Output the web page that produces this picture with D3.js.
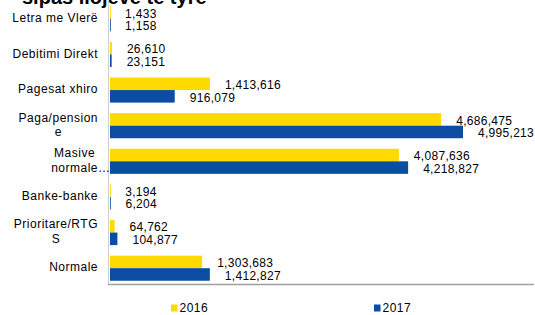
<!DOCTYPE html>
<html>
<head>
<meta charset="utf-8">
<script src="https://cdn.jsdelivr.net/npm/d3@7"></script>
<style>
  html, body { margin: 0; padding: 0; background: #fff; }
  svg { display: block; font-family: "Liberation Sans", Arial, sans-serif; }
</style>
</head>
<body>
<svg id="chart" width="535" height="315"></svg>
<script>
const titleText = "sipas llojeve të tyre";
const categories = ["Letra me Vlerë", "Debitimi Direkt", "Pagesat xhiro", "Paga/pension e", "Masive normale…", "Banke-banke", "Prioritare/RTG S", "Normale"];
const categoryLines = [["Letra me Vlerë"], ["Debitimi Direkt"], ["Pagesat xhiro"], ["Paga/pension", "e"], ["Masive", "normale…"], ["Banke-banke"], ["Prioritare/RTG", "S"], ["Normale"]];
const seriesNames = ["2016", "2017"];
const values2016 = [1433, 26610, 1413616, 4686475, 4087636, 3194, 64762, 1303683];
const values2017 = [1158, 23151, 916079, 4995213, 4218827, 6204, 104877, 1412827];
const colors = ["#FFDA00", "#0A4DA2"];
const xMax = 6000000;

const svg = d3.select("#chart");
const fmt = d3.format(",");

const x = d3.scaleLinear().domain([0, xMax]).range([110, 534]);
const y = d3.scaleBand().domain(categories).range([1, 286]).padding(0);
const y1 = d3.scaleBand().domain(seriesNames).range([0, y.bandwidth()]).paddingInner(0).paddingOuter(0.42);
const color = d3.scaleOrdinal().domain(seriesNames).range(colors);

// title (cut off at top)
svg.append("text")
  .attr("x", 22).attr("y", 3.5)
  .attr("font-size", 20).attr("font-weight", "bold").attr("fill", "#000")
  .text(titleText);

const rows = categories.map((c, i) => ({
  cat: c,
  lines: categoryLines[i],
  vals: [values2016[i], values2017[i]]
}));

// bars
const g = svg.append("g");
rows.forEach(r => {
  r.vals.forEach((v, j) => {
    const s = seriesNames[j];
    const yy = y(r.cat) + y1(s);
    g.append("rect")
      .attr("x", x(0))
      .attr("y", yy)
      .attr("width", Math.max(0.8, x(v) - x(0)))
      .attr("height", y1.bandwidth())
      .attr("fill", color(s));
    g.append("text")
      .attr("x", x(v) + 15)
      .attr("y", yy + y1.bandwidth() / 2 + 2)
      .attr("dominant-baseline", "middle")
      .attr("font-size", 12)
      .attr("letter-spacing", 0.3)
      .attr("fill", "#000")
      .text(fmt(v));
  });
});

// axes lines
svg.append("line")
  .attr("x1", 108.5).attr("x2", 108.5)
  .attr("y1", 0).attr("y2", 285)
  .attr("stroke", "#cfcfcf").attr("stroke-width", 1);
svg.append("line")
  .attr("x1", 108).attr("x2", x.range()[1])
  .attr("y1", 284.5).attr("y2", 284.5)
  .attr("stroke", "#a0a0a0").attr("stroke-width", 1.6);

// category labels
const rightEdge = 98;
const lineH = 14.5;
rows.forEach(r => {
  const n = r.lines.length;
  const cy = y(r.cat) + y.bandwidth() / 2;
  if (n === 1) {
    svg.append("text")
      .attr("x", rightEdge).attr("y", cy)
      .attr("text-anchor", "end")
      .attr("dominant-baseline", "middle")
      .attr("font-size", 12).attr("letter-spacing", 0.5)
      .attr("fill", "#000")
      .text(r.lines[0]);
  } else {
    const widths = r.lines.map(l => {
      const t = svg.append("text").attr("font-size", 12).attr("letter-spacing", 0.5)
        .text(l.replace("…", ""));
      const w = t.node().getComputedTextLength();
      t.remove();
      return w;
    });
    const maxW = d3.max(widths);
    const cx = rightEdge - maxW / 2;
    r.lines.forEach((l, k) => {
      svg.append("text")
        .attr("x", cx - widths[k] / 2)
        .attr("y", cy + (k - (n - 1) / 2) * lineH)
        .attr("dominant-baseline", "middle")
        .attr("font-size", 12).attr("letter-spacing", 0.5)
        .attr("fill", "#000")
        .text(l);
    });
  }
});

// legend
const legendX = [171, 374];
seriesNames.forEach((s, i) => {
  svg.append("rect")
    .attr("x", legendX[i]).attr("y", 304.5)
    .attr("width", 6.5).attr("height", 7)
    .attr("fill", color(s));
  svg.append("text")
    .attr("x", legendX[i] + 8.5).attr("y", 308.5)
    .attr("dominant-baseline", "middle")
    .attr("font-size", 12).attr("letter-spacing", 0.5)
    .attr("fill", "#000")
    .text(s);
});
</script>
</body>
</html>
